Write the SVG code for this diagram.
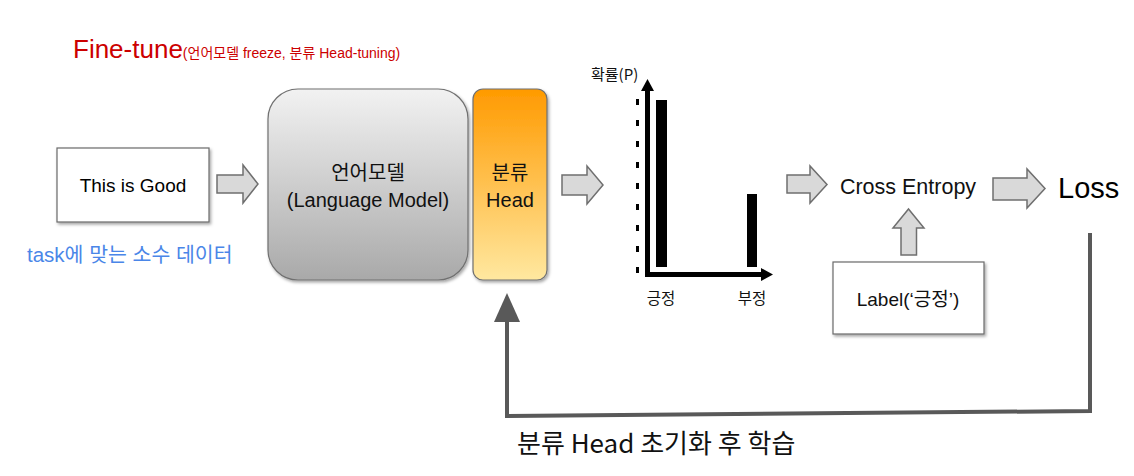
<svg xmlns="http://www.w3.org/2000/svg" width="1134" height="476" viewBox="0 0 1134 476">
<defs>
<linearGradient id="gGray" x1="0" y1="0" x2="0" y2="1"><stop offset="0" stop-color="#f2f2f2"/><stop offset="1" stop-color="#a9a9a9"/></linearGradient>
<linearGradient id="gOrange" x1="0" y1="0" x2="0" y2="1"><stop offset="0" stop-color="#ff9a00"/><stop offset="1" stop-color="#ffe8a0"/></linearGradient>
<filter id="sh" x="-10%" y="-10%" width="130%" height="130%"><feDropShadow dx="1.5" dy="2" stdDeviation="1.5" flood-color="#000" flood-opacity="0.35"/></filter>
</defs>
<style>
text{font-family:"Liberation Sans","Noto Sans CJK KR",sans-serif;}
.k{font-family:"Noto Sans CJK KR","Liberation Sans",sans-serif;}
.blk{fill:#d9d9d9;stroke:#6f6f6f;stroke-width:1.5;}
.box{fill:#fff;stroke:#6a6a6a;stroke-width:1.2;filter:url(#sh);}
.c{text-anchor:middle;}
</style>
<rect width="1134" height="476" fill="#fff"/>

<g id="title">
<text x="73" y="58" font-size="26" fill="#cc0000">Fine-tune<tspan font-size="14">(언어모델 freeze, 분류 Head-tuning)</tspan></text>
</g>

<g id="input">
<rect class="box" x="57" y="148" width="152" height="74"/>
<text x="133" y="192" font-size="19" class="c" fill="#000">This is Good</text>
<text x="27" y="262" font-size="20.5" fill="#4a86e8">task에 맞는 소수 데이터</text>
</g>

<g id="lm">
<rect x="268" y="89" width="200" height="191" rx="30" fill="url(#gGray)" stroke="#707070" stroke-width="1.2" filter="url(#sh)"/>
<text x="368" y="180" font-size="20" class="c k" fill="#111">언어모델</text>
<text x="368" y="207" font-size="20" class="c" fill="#111">(Language Model)</text>
</g>

<g id="head">
<rect x="473" y="89" width="74" height="191" rx="10" fill="url(#gOrange)" stroke="#707070" stroke-width="1.2" filter="url(#sh)"/>
<text x="510" y="180" font-size="20" class="c k" fill="#111">분류</text>
<text x="510" y="207" font-size="20" class="c" fill="#111">Head</text>
</g>

<g id="chart">
<text x="591" y="80" font-size="15" class="k" fill="#111">확률(P)</text>
<g fill="#000">
<rect x="636" y="99" width="3" height="6"/>
<rect x="636" y="120" width="3" height="6"/>
<rect x="636" y="141" width="3" height="6"/>
<rect x="636" y="162" width="3" height="6"/>
<rect x="636" y="183" width="3" height="6"/>
<rect x="636" y="204" width="3" height="6"/>
<rect x="636" y="225" width="3" height="6"/>
<rect x="636" y="246" width="3" height="6"/>
<rect x="636" y="267" width="3" height="6"/>
<rect x="656" y="100" width="11" height="167"/>
<rect x="747" y="194" width="10" height="73"/>
<rect x="645" y="88" width="5" height="189"/>
<path d="M641,91 L647.5,79 L654,91 Z"/>
<rect x="645" y="272" width="118" height="5"/>
<path d="M761,268 L773,274.5 L761,281 Z"/>
</g>
<text x="661" y="304" font-size="15.5" class="c k" fill="#111">긍정</text>
<text x="752" y="304" font-size="15.5" class="c k" fill="#111">부정</text>
</g>

<g id="crossentropy">
<text x="908" y="194" font-size="21.5" class="c" fill="#111">Cross Entropy</text>
</g>

<g id="loss">
<text x="1058" y="198" font-size="29" fill="#000">Loss</text>
</g>

<g id="label">
<rect class="box" x="833" y="262" width="151" height="72"/>
<text x="908" y="306" font-size="19" class="c" fill="#111">Label(‘<tspan class="k">긍정</tspan>’)</text>
</g>

<g id="connectors">
<path class="blk" d="M217,175 L243,175 L243,165 L258,184 L243,203 L243,193 L217,193 Z"/>
<path class="blk" d="M562,175 L587,175 L587,166 L603,185 L587,204 L587,195 L562,195 Z"/>
<path class="blk" d="M787,175 L810,175 L810,166 L827,184.5 L810,203 L810,193 L787,193 Z"/>
<path class="blk" d="M993,178 L1027,178 L1027,169 L1045,188.5 L1027,208 L1027,200 L993,200 Z"/>
<path class="blk" d="M901,255 L901,228 L893,228 L908.5,209 L924,228 L916.5,228 L916.5,255 Z"/>
<path d="M1090,233 L1090,411 L507,416 L507,320" fill="none" stroke="#595959" stroke-width="4"/>
<path d="M494,322 L507,293 L520,322 Z" fill="#595959"/>
<text x="517" y="453" font-size="26" class="k" fill="#111">분류 Head 초기화 후 학습</text>
</g>
</svg>
